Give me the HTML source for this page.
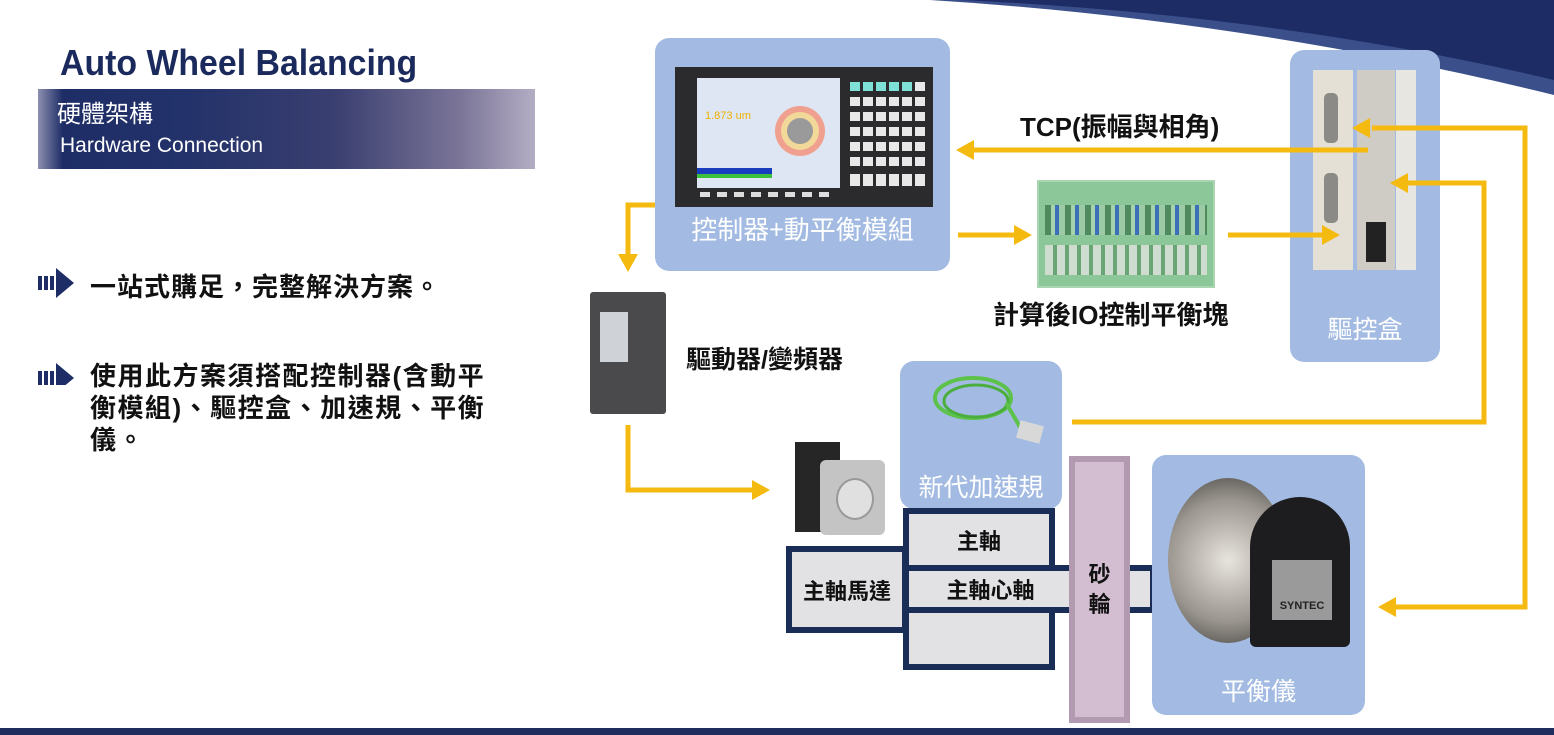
<!DOCTYPE html>
<html><head><meta charset="utf-8"><style>
body{margin:0;width:1554px;height:735px;overflow:hidden;background:#fff;position:relative;font-family:"Liberation Sans","Noto Sans CJK TC",sans-serif}
.a{position:absolute}
.cjk{font-family:"Noto Sans CJK TC","Liberation Sans",sans-serif}
.box{position:absolute;background:#a3bbe2;border-radius:14px}
.lbl{position:absolute;color:#fff;font-size:25px;text-align:center;font-family:"Noto Sans CJK TC",sans-serif}
.bk{position:absolute;font-weight:bold;color:#111;font-family:"Liberation Sans","Noto Sans CJK TC",sans-serif}
.m{position:absolute;background:#e2e2e4;border:6px solid #1a2d57;box-sizing:border-box;font-weight:bold;font-size:22px;color:#111;display:flex;align-items:center;justify-content:center;font-family:"Noto Sans CJK TC",sans-serif}
</style></head><body>
<svg class="a" style="left:0;top:0" width="1554" height="735">
<path d="M930 0 Q1250 20 1554 95 L1554 0 Z" fill="#3b4f8a"/>
<path d="M960 0 Q1280 15 1554 80 L1554 0 Z" fill="#1e2c66"/>
<rect x="0" y="728" width="1554" height="7" fill="#1e2c5e"/>
</svg>
<div class="a" style="left:60px;top:42px;font-size:36px;font-weight:bold;color:#1b2a5c;font-family:'Liberation Sans',sans-serif;transform:scaleX(0.94);transform-origin:left top;white-space:nowrap">Auto Wheel Balancing</div>
<div class="a" style="left:38px;top:89px;width:497px;height:80px;background:linear-gradient(90deg,#8c8fb0 0%,#1e2d66 5%,#23326a 30%,#3a3f70 60%,#7b7598 85%,#b3adc4 100%)"></div>
<div class="a cjk" style="left:57px;top:94px;font-size:24px;color:#fff">硬體架構</div>
<div class="a" style="left:60px;top:134px;font-size:21px;color:#fff;font-family:'Liberation Sans',sans-serif">Hardware Connection</div>
<svg class="a" style="left:36px;top:265px" width="40" height="120">
<g fill="#1e2d66"><rect x="2" y="11" width="4" height="14"/><rect x="8" y="11" width="4" height="14"/><rect x="14" y="11" width="4" height="14"/><path d="M20 3 L38 18 L20 33 Z"/>
<rect x="2" y="106" width="4" height="14"/><rect x="8" y="106" width="4" height="14"/><rect x="14" y="106" width="4" height="14"/><path d="M20 98 L38 113 L20 128 Z"/></g></svg>
<div class="bk" style="left:90px;top:267px;font-size:26px;letter-spacing:1px;white-space:nowrap">一站式購足，完整解決方案。</div>
<div class="bk" style="left:90px;top:360px;font-size:26px;line-height:32px;letter-spacing:1.5px;white-space:nowrap">使用此方案須搭配控制器(含動平<br>衡模組)、驅控盒、加速規、平衡<br>儀。</div>

<!-- controller -->
<div class="box" style="left:655px;top:38px;width:295px;height:233px"></div>
<div class="a" style="left:675px;top:67px;width:258px;height:140px;background:#2b2b2d"></div>
<div class="a" style="left:697px;top:78px;width:143px;height:110px;background:#dde6f2"></div>
<div class="a" style="left:697px;top:168px;width:75px;height:6px;background:#1a3dc0"></div>
<div class="a" style="left:697px;top:174px;width:75px;height:4px;background:#3cbf3c"></div>
<div class="a" style="left:775px;top:106px;width:50px;height:50px;border-radius:50%;background:#f0a08f"></div>
<div class="a" style="left:781px;top:112px;width:38px;height:38px;border-radius:50%;background:#f2d99a"></div>
<div class="a" style="left:787px;top:118px;width:26px;height:26px;border-radius:50%;background:#9a9a9a"></div>
<div class="a" style="left:705px;top:110px;width:50px;height:10px;color:#f0b000;font-size:11px">1.873 um</div>
<svg class="a" style="left:850px;top:82px" width="80" height="110">
<g fill="#e8e8e8"><rect x="0" y="0" width="10" height="9" fill="#7fe0d8"/><rect x="13" y="0" width="10" height="9" fill="#7fe0d8"/><rect x="26" y="0" width="10" height="9" fill="#7fe0d8"/><rect x="39" y="0" width="10" height="9" fill="#7fe0d8"/><rect x="52" y="0" width="10" height="9" fill="#7fe0d8"/><rect x="65" y="0" width="10" height="9"/>
<rect x="0" y="15" width="75" height="9"/><rect x="0" y="30" width="75" height="9"/><rect x="0" y="45" width="75" height="9"/><rect x="0" y="60" width="75" height="9"/><rect x="0" y="75" width="75" height="9"/><rect x="0" y="92" width="75" height="12"/></g>
<g stroke="#2b2b2d" stroke-width="3"><path d="M11.5 15V105M24.5 15V105M37.5 15V105M50.5 15V105M63.5 15V105"/></g></svg>
<svg class="a" style="left:700px;top:192px" width="140" height="8"><g fill="#ddd"><rect x="0" y="0" width="10" height="5"/><rect x="17" y="0" width="10" height="5"/><rect x="34" y="0" width="10" height="5"/><rect x="51" y="0" width="10" height="5"/><rect x="68" y="0" width="10" height="5"/><rect x="85" y="0" width="10" height="5"/><rect x="102" y="0" width="10" height="5"/><rect x="119" y="0" width="10" height="5"/></g></svg>
<div class="lbl" style="left:655px;top:210px;width:295px;font-size:26px">控制器+動平衡模組</div>

<!-- drive box -->
<div class="box" style="left:1290px;top:50px;width:150px;height:312px"></div>
<div class="a" style="left:1313px;top:70px;width:40px;height:200px;background:#e4e0d6"></div>
<div class="a" style="left:1357px;top:70px;width:38px;height:200px;background:#cfccc6"></div>
<div class="a" style="left:1396px;top:70px;width:20px;height:200px;background:#e8e6e0"></div>
<div class="a" style="left:1324px;top:93px;width:14px;height:50px;background:#8c8a86;border-radius:5px"></div>
<div class="a" style="left:1324px;top:173px;width:14px;height:50px;background:#8c8a86;border-radius:5px"></div>
<div class="a" style="left:1366px;top:222px;width:20px;height:40px;background:#222"></div>
<div class="lbl" style="left:1290px;top:310px;width:150px">驅控盒</div>

<!-- IO board -->
<div class="a" style="left:1037px;top:180px;width:178px;height:108px;background:#8cc79a;border:2px solid #a9d5b0;box-sizing:border-box"></div>
<div class="a" style="left:1045px;top:205px;width:162px;height:30px;background:repeating-linear-gradient(90deg,#4f8a5e 0 6px,#a6d2ad 6px 10px,#3b6fb8 10px 14px,#9ccaa5 14px 20px)"></div>
<div class="a" style="left:1045px;top:245px;width:162px;height:30px;background:repeating-linear-gradient(90deg,#cfdcd0 0 8px,#6aa576 8px 12px)"></div>
<div class="bk" style="left:993px;top:295px;font-size:26px">計算後IO控制平衡塊</div>
<div class="bk" style="left:1020px;top:107px;font-size:26px">TCP(振幅與相角)</div>

<!-- inverter -->
<div class="a" style="left:590px;top:292px;width:76px;height:122px;background:#4a4a4c;border-radius:3px"></div>
<div class="a" style="left:600px;top:312px;width:28px;height:50px;background:#cfd3d8"></div>
<div class="bk" style="left:686px;top:340px;font-size:25px">驅動器/變頻器</div>

<!-- accel -->
<div class="box" style="left:900px;top:361px;width:162px;height:148px"></div>
<svg class="a" style="left:918px;top:368px" width="140" height="90"><ellipse cx="55" cy="30" rx="38" ry="20" fill="none" stroke="#5cc24a" stroke-width="4"/><ellipse cx="58" cy="33" rx="32" ry="16" fill="none" stroke="#4aae3c" stroke-width="3"/><path d="M88 35 Q100 55 105 65" stroke="#5cc24a" stroke-width="4" fill="none"/><rect x="100" y="55" width="24" height="18" fill="#d8d8d8" transform="rotate(15 112 64)"/></svg>
<div class="lbl" style="left:900px;top:468px;width:162px">新代加速規</div>

<!-- motor -->
<div class="a" style="left:795px;top:442px;width:45px;height:90px;background:#262626"></div>
<div class="a" style="left:820px;top:460px;width:65px;height:75px;background:#c4c4c4;border-radius:6px"></div>
<div class="a" style="left:836px;top:478px;width:34px;height:38px;border-radius:50%;background:#e0e0e0;border:2px solid #999"></div>

<!-- mechanical -->
<div class="m" style="left:903px;top:508px;width:152px;height:63px">主軸</div>
<div class="m" style="left:903px;top:607px;width:152px;height:63px"></div>
<div class="m" style="left:1120px;top:565px;width:36px;height:48px"></div>
<div class="m" style="left:903px;top:565px;width:175px;height:48px">主軸心軸</div>
<div class="m" style="left:786px;top:546px;width:122px;height:87px">主軸馬達</div>
<div class="a" style="left:1069px;top:456px;width:61px;height:267px;background:#d2bed0;border:6px solid #b29bb0;box-sizing:border-box"></div>
<div class="a cjk" style="left:1069px;top:558px;width:61px;text-align:center;font-size:22px;font-weight:bold;line-height:30px;color:#111">砂<br>輪</div>

<!-- balancer -->
<div class="box" style="left:1152px;top:455px;width:213px;height:260px"></div>
<div class="a" style="left:1168px;top:478px;width:120px;height:165px;border-radius:50%;background:radial-gradient(circle,#e8e4de 0%,#9a958e 60%,#3e3d3b 100%)"></div>
<div class="a" style="left:1250px;top:497px;width:100px;height:150px;background:#1d1d1f;border-radius:50px 50px 6px 6px"></div>
<div class="a" style="left:1272px;top:560px;width:60px;height:60px;background:#9a9a9a"></div>
<div class="a" style="left:1274px;top:600px;width:56px;font-size:11px;font-weight:bold;text-align:center;color:#222">SYNTEC</div>
<div class="lbl" style="left:1152px;top:672px;width:213px">平衡儀</div>

<!-- arrows -->
<svg class="a" style="left:0;top:0" width="1554" height="735">
<g stroke="#f5ba10" stroke-width="5" fill="none">
<path d="M1368 150 H972"/>
<path d="M958 235 H1018"/>
<path d="M1228 235 H1325"/>
<path d="M1072 422 H1484 V183 H1405"/>
<path d="M1372 128 H1525 V607 H1395"/>
<path d="M655 205 H628 V258"/>
<path d="M628 425 V490 H755"/>
</g>
<g fill="#f5ba10">
<path d="M956 150 L974 140 L974 160 Z"/>
<path d="M1032 235 L1014 225 L1014 245 Z"/>
<path d="M1340 235 L1322 225 L1322 245 Z"/>
<path d="M1390 183 L1408 173 L1408 193 Z"/>
<path d="M1352 128 L1370 118 L1370 138 Z"/>
<path d="M1378 607 L1396 597 L1396 617 Z"/>
<path d="M628 272 L618 254 L638 254 Z"/>
<path d="M770 490 L752 480 L752 500 Z"/>
</g></svg>
</body></html>
